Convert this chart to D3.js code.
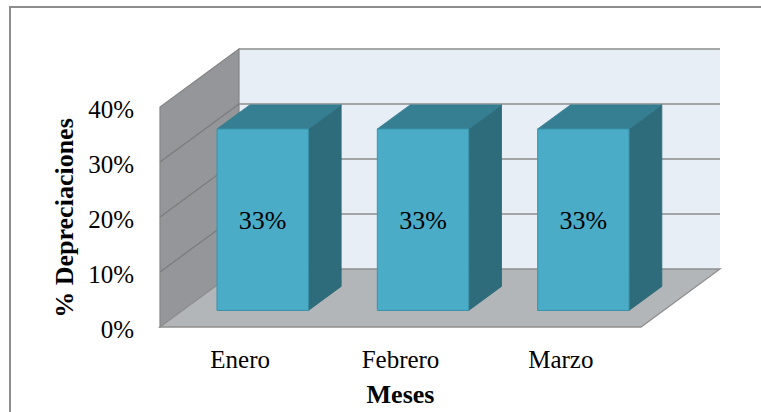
<!DOCTYPE html>
<html>
<head>
<meta charset="utf-8">
<script src="https://cdn.jsdelivr.net/npm/d3@7"></script>
<style>
  html, body { margin: 0; padding: 0; background: #ffffff; }
  svg { display: block; }
  svg text { font-family: "Liberation Serif", "Times New Roman", "DejaVu Serif", serif; fill: #000; }
</style>
</head>
<body>
<svg id="chart" width="761" height="412"></svg>
<script>
// Depreciation share per month
const meses = ["Enero", "Febrero", "Marzo"];
const depreciaciones = [0.33, 0.33, 0.33];
const etiquetas = ["33%", "33%", "33%"];
const yTicks = [0, 0.1, 0.2, 0.3, 0.4];

const serif = '"Liberation Serif", "Times New Roman", "DejaVu Serif", serif';
const svg = d3.select("#chart");

// Front plane scales
const x = d3.scaleBand().domain(meses).range([160, 641]).paddingInner(0.43).paddingOuter(0.215);
const y = d3.scaleLinear().domain([0, 0.4]).range([327, 107]);
// Depth (oblique projection) offsets for z in [0,1]
const dz = d3.scaleLinear().domain([0, 1]).range([0, 79]);
const dzy = d3.scaleLinear().domain([0, 1]).range([0, -58]);

// Project (front-plane x, value, depth) to screen
const P = (px, v, z) => [px + dz(z), y(v) + dzy(z)];
const poly = pts => "M" + pts.map(p => p.join(",")).join("L") + "Z";

const xL = x.range()[0], xR = x.range()[1];
const vMax = y.domain()[1];

// Outer chart frame
svg.append("rect")
  .attr("x", 10).attr("y", 7).attr("width", 800).attr("height", 450)
  .attr("fill", "none").attr("stroke", "#8d8d8d").attr("stroke-width", 2);

// Back wall
svg.append("path")
  .attr("d", poly([P(xL, 0, 1), P(xL, vMax, 1), P(xR, vMax, 1), P(xR, 0, 1)]))
  .attr("fill", "#e8eef5");

// Back wall gridlines
svg.append("g").selectAll("line").data(yTicks.filter(t => t > 0)).join("line")
  .attr("x1", d => P(xL, d, 1)[0]).attr("y1", d => P(xL, d, 1)[1])
  .attr("x2", d => P(xR, d, 1)[0]).attr("y2", d => P(xR, d, 1)[1])
  .attr("stroke", "#8c8c8c").attr("stroke-width", 1.5);

// Left wall
svg.append("path")
  .attr("d", poly([P(xL, 0, 0), P(xL, vMax, 0), P(xL, vMax, 1), P(xL, 0, 1)]))
  .attr("fill", "#94969a").attr("stroke", "#858585").attr("stroke-width", 1.2);

// Left wall gridlines
svg.append("g").selectAll("line").data(yTicks.filter(t => t > 0 && t < vMax)).join("line")
  .attr("x1", d => P(xL, d, 0)[0]).attr("y1", d => P(xL, d, 0)[1])
  .attr("x2", d => P(xL, d, 1)[0]).attr("y2", d => P(xL, d, 1)[1])
  .attr("stroke", "#7c7c7c").attr("stroke-width", 1.3);

// Floor
svg.append("path")
  .attr("d", poly([P(xL, 0, 0), P(xL, 0, 1), P(xR, 0, 1), P(xR, 0, 0)]))
  .attr("fill", "#b3b6b9").attr("stroke", "#8f8f8f").attr("stroke-width", 1.3);

// Bars
const z0 = 0.285, z1 = 0.70;
const data = meses.map((m, i) => ({ mes: m, v: depreciaciones[i], label: etiquetas[i] }));
const bars = svg.append("g").selectAll("g").data(data).join("g");

bars.append("path") // right side
  .attr("d", d => {
    const xr = x(d.mes) + x.bandwidth();
    return poly([P(xr, 0, z0), P(xr, d.v, z0), P(xr, d.v, z1), P(xr, 0, z1)]);
  })
  .attr("fill", "#2f6c7b").attr("stroke", "#2c6776").attr("stroke-width", 0.8);

bars.append("path") // top
  .attr("d", d => {
    const xl = x(d.mes), xr = xl + x.bandwidth();
    return poly([P(xl, d.v, z0), P(xl, d.v, z1), P(xr, d.v, z1), P(xr, d.v, z0)]);
  })
  .attr("fill", "#367f92").attr("stroke", "#327a8c").attr("stroke-width", 0.8);

bars.append("path") // front
  .attr("d", d => {
    const xl = x(d.mes), xr = xl + x.bandwidth();
    return poly([P(xl, 0, z0), P(xl, d.v, z0), P(xr, d.v, z0), P(xr, 0, z0)]);
  })
  .attr("fill", "#4aacc6").attr("stroke", "#3b93aa").attr("stroke-width", 1);

// Data labels
bars.append("text")
  .attr("x", d => P(x(d.mes) + x.bandwidth() / 2, 0, z0)[0])
  .attr("y", d => P(0, d.v / 2, z0)[1] + 9)
  .attr("text-anchor", "middle")
  .style("font-family", serif)
  .style("font-size", "26px")
  .text(d => d.label);

// Y axis
const yAxis = svg.append("g")
  .attr("transform", "translate(134,0)")
  .call(d3.axisLeft(y).tickValues(yTicks).tickFormat(d3.format(".0%")).tickSize(0).tickPadding(0));
yAxis.select(".domain").remove();
yAxis.selectAll("text")
  .style("font-family", serif)
  .style("font-size", "25px").style("fill", "#000").attr("dy", 10.5);

// X axis
const xAxis = svg.append("g")
  .attr("transform", "translate(0,327)")
  .call(d3.axisBottom(x).tickSize(0).tickPadding(0));
xAxis.select(".domain").remove();
xAxis.selectAll("text")
  .style("font-family", serif)
  .style("font-size", "25px").style("fill", "#000").attr("y", 41).attr("dy", 0);

// Axis titles
svg.append("text")
  .attr("x", (xL + xR) / 2).attr("y", 403)
  .attr("text-anchor", "middle")
  .style("font-family", serif).style("font-weight", "bold").style("font-size", "26px")
  .text("Meses");

svg.append("text")
  .attr("transform", "translate(73,218) rotate(-90)")
  .attr("text-anchor", "middle")
  .style("font-family", serif).style("font-weight", "bold").style("font-size", "26px")
  .text("% Depreciaciones");
</script>
</body>
</html>
